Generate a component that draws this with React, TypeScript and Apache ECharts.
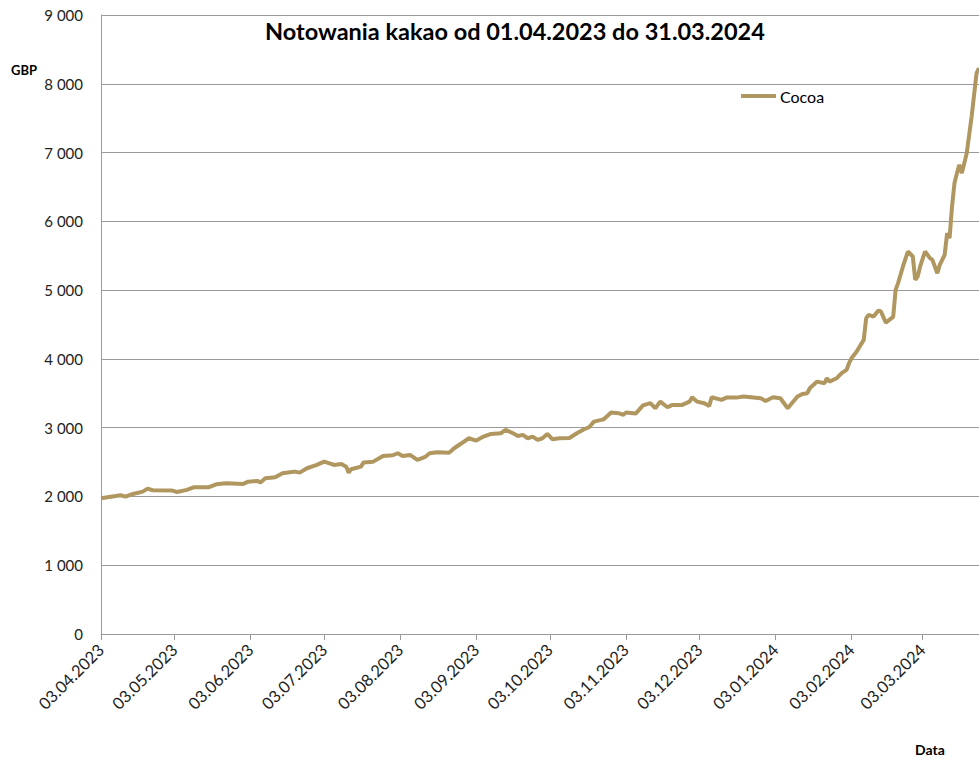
import React, { useEffect, useRef } from "react";
import * as echarts from "echarts";

const dates: string[] = [
  "2023-04-03", "2023-04-11", "2023-04-13", "2023-04-16", "2023-04-20", "2023-04-22", "2023-04-24",
  "2023-05-02", "2023-05-04", "2023-05-08", "2023-05-11", "2023-05-17", "2023-05-20", "2023-05-24", "2023-05-31",
  "2023-06-02", "2023-06-06", "2023-06-07", "2023-06-09", "2023-06-13", "2023-06-16", "2023-06-19", "2023-06-21",
  "2023-06-23", "2023-06-26", "2023-06-30",
  "2023-07-03", "2023-07-07", "2023-07-10", "2023-07-12", "2023-07-13", "2023-07-14", "2023-07-18", "2023-07-19",
  "2023-07-23", "2023-07-27", "2023-07-31",
  "2023-08-02", "2023-08-04", "2023-08-07", "2023-08-10", "2023-08-13", "2023-08-15", "2023-08-18", "2023-08-23",
  "2023-08-25", "2023-08-28", "2023-08-31",
  "2023-09-03", "2023-09-06", "2023-09-09", "2023-09-13", "2023-09-15", "2023-09-18", "2023-09-20", "2023-09-22",
  "2023-09-24", "2023-09-26", "2023-09-28", "2023-09-30",
  "2023-10-02", "2023-10-04", "2023-10-07", "2023-10-11", "2023-10-14", "2023-10-17", "2023-10-19", "2023-10-21",
  "2023-10-24", "2023-10-25", "2023-10-28", "2023-10-31",
  "2023-11-02", "2023-11-03", "2023-11-07", "2023-11-10", "2023-11-13", "2023-11-15", "2023-11-17", "2023-11-20",
  "2023-11-22", "2023-11-26", "2023-11-29", "2023-11-30",
  "2023-12-02", "2023-12-05", "2023-12-07", "2023-12-08", "2023-12-12", "2023-12-14", "2023-12-18", "2023-12-21",
  "2023-12-28", "2023-12-30",
  "2024-01-02", "2024-01-05", "2024-01-08", "2024-01-12", "2024-01-14", "2024-01-16", "2024-01-17", "2024-01-18",
  "2024-01-20", "2024-01-23", "2024-01-24", "2024-01-25", "2024-01-28", "2024-01-30",
  "2024-02-01", "2024-02-02", "2024-02-03", "2024-02-05", "2024-02-08", "2024-02-09", "2024-02-10", "2024-02-12",
  "2024-02-14", "2024-02-15", "2024-02-17", "2024-02-20", "2024-02-21", "2024-02-22", "2024-02-24", "2024-02-26",
  "2024-02-28", "2024-02-29",
  "2024-03-01", "2024-03-02", "2024-03-04", "2024-03-06", "2024-03-07", "2024-03-09", "2024-03-10", "2024-03-12",
  "2024-03-13", "2024-03-14", "2024-03-15", "2024-03-16", "2024-03-17", "2024-03-18", "2024-03-19", "2024-03-21",
  "2024-03-23", "2024-03-25", "2024-03-26",
];

const cocoa: number[] = [
  1975, 2017, 1997, 2036, 2070, 2114, 2090,
  2085, 2065, 2095, 2134, 2134, 2177, 2192, 2182,
  2215, 2225, 2201, 2265, 2279, 2337, 2352, 2361,
  2346, 2410, 2458,
  2506, 2458, 2473, 2433, 2346, 2396, 2433, 2492,
  2506, 2589, 2599,
  2628, 2589, 2604, 2531, 2570, 2628, 2643, 2637,
  2701, 2773, 2846,
  2812, 2870, 2909, 2919, 2967, 2919, 2880, 2895,
  2846, 2870, 2822, 2846,
  2909, 2832, 2846, 2850, 2919, 2977, 3006, 3088,
  3113, 3122, 3219, 3210,
  3186, 3219, 3205, 3325, 3356, 3283, 3379, 3297,
  3331, 3331, 3379, 3443,
  3379, 3356, 3316, 3443, 3404, 3437, 3437, 3452,
  3428, 3389,
  3443, 3428, 3283, 3452, 3491, 3501, 3573, 3607,
  3670, 3646, 3719, 3670, 3719, 3792,
  3840, 3937, 4009, 4100, 4276, 4592, 4640, 4616,
  4703, 4690, 4528, 4610, 5004, 5101, 5344, 5561,
  5489, 5149,
  5197, 5344, 5561, 5465, 5440, 5246, 5367, 5513,
  5828, 5756, 6216, 6556, 6701, 6822, 6701, 6992,
  7524, 8155, 8228,
];

const tickLabels: string[] = [
  "03.04.2023", "03.05.2023", "03.06.2023", "03.07.2023", "03.08.2023", "03.09.2023",
  "03.10.2023", "03.11.2023", "03.12.2023", "03.01.2024", "03.02.2024", "03.03.2024",
];

const axisStart = "2023-04-03";
const axisEnd = "2024-03-26";
const seriesName = "Cocoa";
const titleText = "Notowania kakao od 01.04.2023 do 31.03.2024";

const DAY = 86400000;
function utcOf(y: number, m: number, d: number) {
  return Date.UTC(y, m - 1, d);
}
function parseLabel(s: string): number {
  const [d, m, y] = s.split(".").map(Number);
  return utcOf(y, m, d);
}
function parseIso(s: string): number {
  const [y, m, d] = s.split("-").map(Number);
  return utcOf(y, m, d);
}
const start = parseIso(axisStart);
const dayIndex = (t: number) => Math.round((t - start) / DAY);

const FONT = "Lato";

export default function App() {
  const ref = useRef<HTMLDivElement>(null);
  useEffect(() => {
    if (!ref.current) return;
    const chart = echarts.init(ref.current, null, { renderer: "svg" });
    const tickValues = tickLabels.map((s) => dayIndex(parseLabel(s)));
    const labelMap: Record<number, string> = {};
    tickValues.forEach((v, i) => (labelMap[v] = tickLabels[i]));
    const data = dates.map((d, i) => [dayIndex(parseIso(d)), cocoa[i]]);
    const gray = "#9a9a9a";
    const color = "#b0965f";
    chart.setOption({
      animation: false,
      textStyle: { fontFamily: FONT },
      title: {
        text: titleText,
        left: 260,
        top: 14,
        textStyle: { fontSize: 23.5, fontWeight: "bold", color: "#000", fontFamily: FONT },
      },
      legend: {
        data: [seriesName],
        left: 736,
        top: 83,
        icon: "rect",
        itemWidth: 35,
        itemHeight: 4,
        textStyle: { fontSize: 16, color: "#000", fontFamily: FONT, padding: [0, 0, 0, -1] },
      },
      grid: { left: 101, right: 0, top: 15, bottom: 128 },
      xAxis: {
        type: "value",
        min: 0,
        max: dayIndex(parseIso(axisEnd)),
        axisLine: { lineStyle: { color: gray, width: 1 } },
        axisTick: { show: true, customValues: tickValues, length: 6, lineStyle: { color: gray } },
        axisLabel: {
          customValues: tickValues,
          rotate: 45,
          margin: 13,
          fontSize: 16.5,
          color: "#222",
          fontFamily: FONT,
          hideOverlap: false,
          showMinLabel: true,
          formatter: (v: number) => labelMap[Math.round(v)] ?? "",
        },
        splitLine: { show: false },
      },
      yAxis: {
        type: "value",
        min: 0,
        max: 9000,
        interval: 1000,
        axisLine: { show: true, lineStyle: { color: gray } },
        axisTick: { show: false },
        axisLabel: {
          margin: 18,
          fontSize: 15,
          color: "#222",
          fontFamily: FONT,
          formatter: (v: number) => String(v).replace(/\B(?=(\d{3})+(?!\d))/g, " "),
        },
        splitLine: { lineStyle: { color: gray, width: 1 } },
      },
      graphic: [
        {
          type: "text",
          left: 11,
          top: 63,
          style: { text: "GBP", fontSize: 13, fontWeight: "bold", fill: "#000", fontFamily: FONT },
        },
        {
          type: "text",
          left: 915,
          top: 742,
          style: { text: "Data", fontSize: 14, fontWeight: "bold", fill: "#000", fontFamily: FONT },
        },
      ],
      series: [
        {
          name: seriesName,
          type: "line",
          data,
          symbol: "none",
          showSymbol: false,
          lineStyle: { width: 4, color },
          itemStyle: { color },
        },
      ],
    });
    return () => chart.dispose();
  }, []);
  return (
    <div
      ref={ref}
      style={{ width: 979, height: 762, position: "fixed", left: 0, top: 0, background: "#fff" }}
    />
  );
}
